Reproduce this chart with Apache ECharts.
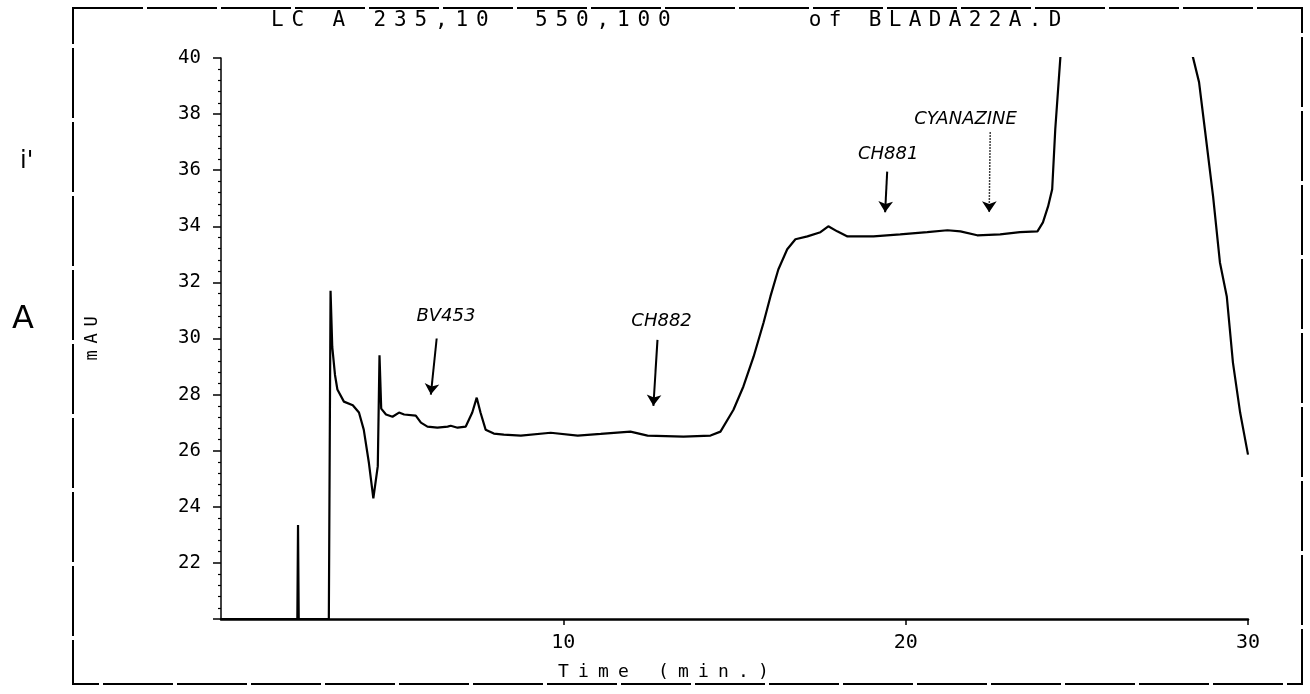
<!DOCTYPE html>
<html>
<head>
<meta charset="utf-8">
<script src="https://cdn.jsdelivr.net/npm/echarts@6/dist/echarts.min.js"></script>
<style>
html,body{margin:0;padding:0;background:#fff;}
#chart{width:1310px;height:694px;}
</style>
</head>
<body>
<div id="chart"></div>
<script>
// ---- data ----
const timeMin = [0, 2.23, 2.25, 2.27, 3.15, 3.2, 3.25, 3.33, 3.4, 3.59, 3.85, 4.03, 4.17, 4.32, 4.45,
  4.58, 4.63, 4.68, 4.82, 5.01, 5.2, 5.35, 5.69, 5.84, 6.03, 6.32, 6.62, 6.71, 6.91, 7.15, 7.34, 7.47,
  7.58, 7.73, 7.97, 8.26, 8.76, 9.63, 10.42, 11.09, 11.96, 12.46, 13.51, 14.3, 14.59, 14.97, 15.26,
  15.56, 15.85, 16.05, 16.28, 16.54, 16.78, 17.13, 17.51, 17.74, 18.0, 18.3, 19.06, 19.84, 20.63,
  21.22, 21.6, 22.09, 22.76, 23.34, 23.85, 24.01, 24.16, 24.28, 24.37, 24.52, 24.56, 26.3, 28.34,
  28.39, 28.57, 28.74, 28.98, 29.18, 29.38, 29.56, 29.77, 30.0];
const mAU = [20, 20, 23.35, 20, 20, 31.7, 29.7, 28.7, 28.18, 27.75, 27.62, 27.36, 26.75, 25.57, 24.3,
  25.45, 29.4, 27.5, 27.29, 27.21, 27.36, 27.29, 27.25, 27.0, 26.86, 26.82, 26.86, 26.89, 26.82, 26.86,
  27.36, 27.89, 27.36, 26.75, 26.61, 26.57, 26.54, 26.64, 26.54, 26.6, 26.68, 26.54, 26.5, 26.54, 26.68,
  27.46, 28.29, 29.36, 30.57, 31.5, 32.46, 33.18, 33.54, 33.64, 33.79, 34.0, 33.82, 33.64, 33.64, 33.71,
  33.79, 33.86, 33.82, 33.68, 33.71, 33.79, 33.82, 34.14, 34.71, 35.32, 37.46, 40.04, 41, null, 41,
  40.04, 39.14, 37.46, 35.07, 32.71, 31.5, 29.14, 27.36, 25.86];
const xTickValues = [10, 20, 30];
const yTickValues = [22, 24, 26, 28, 30, 32, 34, 36, 38, 40];
const titleParts = ['LC A 235,10', '550,100', 'of BLADA22A.D'];
const xAxisTitle = 'Time (min.)';
const yAxisTitle = 'mAU';
const peakNames = ['BV453', 'CH882', 'CH881', 'CYANAZINE'];

// ---- annotation geometry (data coordinates) ----
const labelAt = [[6.57, 30.8], [12.87, 30.6], [19.49, 36.55], [21.75, 37.8]];
const arrowFrom = [[6.3, 30.0], [12.75, 29.95], [19.46, 35.95], [22.47, 37.35]];
const arrowTo = [[6.13, 28.0], [12.63, 27.6], [19.4, 34.5], [22.44, 34.5]];

const mono = '"DejaVu Sans Mono", "Liberation Mono", monospace';
const hand = '"DejaVu Sans", "Noto Sans", sans-serif';

const series = timeMin.map((t, i) => [t, mAU[i]]);

function spaced(str) {
  return str.split('').map(ch => '{c|' + ch + '}').join('');
}
function spacedRich(pitch, size) {
  return {c: {width: pitch, align: 'center', fontFamily: mono, fontSize: size, color: '#000'}};
}
function titlePart(i, left, pitch) {
  return {text: spaced(titleParts[i]), left: left, top: 5,
    textStyle: {fontFamily: mono, fontSize: 21, fontWeight: 'normal', color: '#000', rich: spacedRich(pitch, 21)}};
}

const chart = echarts.init(document.getElementById('chart'), null, {renderer: 'canvas'});
chart.setOption({
  backgroundColor: '#ffffff',
  animation: false,
  title: [titlePart(0, 262, 20.5), titlePart(1, 526, 20.5), titlePart(2, 800, 20)],
  grid: {left: 221, right: 62, top: 58, bottom: 75, containLabel: false},
  xAxis: {
    type: 'value', min: 0, max: 30,
    name: spaced(xAxisTitle), nameLocation: 'middle', nameGap: 44,
    nameTextStyle: {fontFamily: mono, fontSize: 18, color: '#000', padding: [0, 142, 0, 0], rich: spacedRich(20, 18)},
    axisLine: {show: true, lineStyle: {color: '#000', width: 2.5}},
    axisTick: {show: true, customValues: xTickValues, length: 6, lineStyle: {color: '#000', width: 1.5}},
    axisLabel: {show: true, customValues: xTickValues, fontFamily: mono, fontSize: 20, color: '#000', margin: 14},
    splitLine: {show: false}
  },
  yAxis: {
    type: 'value', min: 20, max: 40, interval: 2,
    name: spaced(yAxisTitle), nameLocation: 'middle', nameGap: 120, nameRotate: 90, nameMoveOverlap: false,
    nameTextStyle: {fontFamily: mono, fontSize: 17, color: '#000', rich: spacedRich(17, 17)},
    axisLine: {show: true, lineStyle: {color: '#000', width: 1.5}},
    axisTick: {show: true, length: 8, lineStyle: {color: '#000', width: 1.5}},
    minorTick: {show: true, splitNumber: 5, length: 3, lineStyle: {color: '#000', width: 1.2}},
    axisLabel: {fontFamily: mono, fontSize: 19, color: '#000', margin: 20,
      formatter: v => (yTickValues.indexOf(v) >= 0 ? String(v) : '')},
    splitLine: {show: false}
  },
  series: [{
    type: 'line', data: series, showSymbol: false, symbol: 'none', clip: true,
    connectNulls: false,
    lineStyle: {color: '#000', width: 2.2},
    markLine: {
      silent: true, symbol: ['none', 'arrow'], symbolSize: 11,
      label: {show: false},
      data: arrowFrom.map((p, i) => [
        {coord: p, lineStyle: {color: '#000', width: i === 3 ? 1.5 : 2, type: i === 3 ? 'dotted' : 'solid'}},
        {coord: arrowTo[i]}
      ])
    },
    markPoint: {
      silent: true, symbol: 'circle', symbolSize: 1,
      itemStyle: {color: 'rgba(0,0,0,0)'},
      data: labelAt.map((p, i) => ({
        coord: p, value: peakNames[i],
        label: {show: true, position: 'inside', formatter: peakNames[i], color: '#000',
          fontFamily: hand, fontStyle: 'italic', fontSize: i === 3 ? 18 : 18}
      }))
    }
  }],
  graphic: [
    {type: 'rect', silent: true, shape: {x: 73, y: 8, width: 1229, height: 676},
      style: {fill: 'none', stroke: '#000', lineWidth: 2, lineDash: [70, 4]}},
    {type: 'text', silent: true, left: 12, top: 304,
      style: {text: 'A', font: '32px "DejaVu Sans", sans-serif', fill: '#000'}},
    {type: 'text', silent: true, left: 20, top: 150,
      style: {text: "i'", font: '24px "DejaVu Sans", sans-serif', fill: '#000'}}
  ]
});
</script>
</body>
</html>
